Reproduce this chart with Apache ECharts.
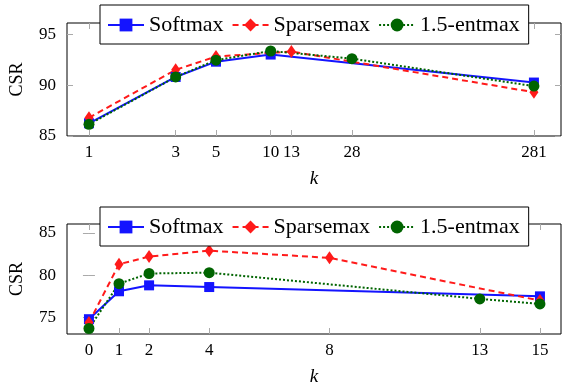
<!DOCTYPE html>
<html>
<head>
<meta charset="utf-8">
<script src="https://cdn.jsdelivr.net/npm/echarts@6/dist/echarts.min.js"></script>
<style>
  html, body { margin: 0; padding: 0; background: #fff; }
  #chart { width: 562px; height: 387px; }
</style>
</head>
<body>
<div id="chart"></div>
<script>
// top panel (log k)
var topTicks = [1, 3, 5, 10, 13, 28, 281];
var topSoftmax = [[1, 86.25], [3, 90.8], [5, 92.3], [10, 93.0], [281, 90.25]];
var topSparsemax = [[1, 86.8], [3, 91.5], [5, 92.8], [13, 93.3], [281, 89.3]];
var topEntmax = [[1, 86.15], [3, 90.8], [5, 92.45], [10, 93.35], [28, 92.6], [281, 89.9]];

// bottom panel (linear k)
var bottomTicks = [0, 1, 2, 4, 8, 13, 15];
var bottomSoftmax = [[0, 74.8], [1, 78.1], [2, 78.8], [4, 78.6], [15, 77.5]];
var bottomSparsemax = [[0, 74.4], [1, 81.3], [2, 82.2], [4, 82.9], [8, 82.05], [15, 77.0]];
var bottomEntmax = [[0, 73.7], [1, 79.0], [2, 80.2], [4, 80.3], [13, 77.2], [15, 76.6]];

var topY = [85, 90, 95];
var bottomY = [75, 80, 85];

var names = ['Softmax', 'Sparsemax', '1.5-entmax'];
var serif = 'Liberation Serif';

var dom = document.getElementById('chart');
var myChart = echarts.init(dom);

function tickStyle(vals) {
    return { show: true, inside: true, length: 6, customValues: vals, lineStyle: { color: '#aaa', width: 1 } };
}

function xAx(grid, type, vals, min, max, pos, withLabel) {
    var a = {
        type: type,
        gridIndex: grid,
        position: pos,
        min: min,
        max: max,
        axisLine: { show: false },
        axisTick: tickStyle(vals),
        splitLine: { show: false },
        axisLabel: { show: withLabel, customValues: vals, margin: 8, fontFamily: serif, fontSize: 17, color: '#000' }
    };
    if (type === 'log') a.logBase = 10;
    if (withLabel) {
        a.name = 'k';
        a.nameLocation = 'middle';
        a.nameGap = 33;
        a.nameTextStyle = { fontFamily: serif, fontStyle: 'italic', fontSize: 19, color: '#000' };
    }
    return a;
}

function yAx(grid, vals, min, max, pos, withLabel) {
    var a = {
        type: 'value',
        gridIndex: grid,
        position: pos,
        min: min,
        max: max,
        axisLine: { show: false },
        axisTick: tickStyle(vals),
        splitLine: { show: false },
        axisLabel: { show: withLabel, customValues: vals, margin: 11, fontFamily: serif, fontSize: 17, color: '#000' }
    };
    if (withLabel) {
        a.name = 'CSR';
        a.nameLocation = 'middle';
        a.nameRotate = 90;
        a.nameGap = 41;
        a.nameTextStyle = { fontFamily: serif, fontSize: 18, color: '#000' };
    }
    return a;
}

function mk(name, data, xi, yi) {
    var s = {
        name: name,
        type: 'line',
        data: data,
        xAxisIndex: xi,
        yAxisIndex: yi,
        animation: false
    };
    if (name === 'Softmax') {
        s.symbol = 'rect';
        s.symbolSize = 10;
        s.itemStyle = { color: '#1414ff' };
        s.lineStyle = { color: '#1414ff', width: 2 };
    } else if (name === 'Sparsemax') {
        s.symbol = 'diamond';
        s.symbolSize = [9, 13];
        s.itemStyle = { color: '#ff1a1a' };
        s.lineStyle = { color: '#ff1a1a', width: 2, type: [6, 4] };
    } else {
        s.symbol = 'circle';
        s.symbolSize = 11;
        s.itemStyle = { color: '#006400' };
        s.lineStyle = { color: '#006400', width: 2, type: [2, 2] };
    }
    return s;
}

function leg(top) {
    return {
        data: names,
        left: 100,
        top: top,
        orient: 'horizontal',
        itemWidth: 36,
        itemHeight: 16,
        itemGap: 8,
        padding: [9, 9, 8, 7],
        borderColor: '#000',
        borderWidth: 1,
        backgroundColor: '#fff',
        selectedMode: false,
        textStyle: { fontFamily: serif, fontSize: 22, color: '#000', padding: [0, 0, 0, 0] }
    };
}

option = {
    animation: false,
    backgroundColor: '#fff',
    legend: [leg(5), leg(207)],
    grid: [
        { left: 67, right: 1, top: 23, height: 113, show: true, borderColor: '#000', borderWidth: 1, backgroundColor: 'transparent' },
        { left: 67, right: 1, top: 224, height: 112, show: true, borderColor: '#000', borderWidth: 1, backgroundColor: 'transparent' }
    ],
    xAxis: [
        xAx(0, 'log', topTicks, 0.757, 396, 'bottom', true),
        xAx(0, 'log', topTicks, 0.757, 396, 'top', false),
        xAx(1, 'value', bottomTicks, -0.73, 15.7, 'bottom', true),
        xAx(1, 'value', bottomTicks, -0.73, 15.7, 'top', false)
    ],
    yAxis: [
        yAx(0, topY, 85, 96.1, 'left', true),
        yAx(0, topY, 85, 96.1, 'right', false),
        yAx(1, bottomY, 73.05, 86.05, 'left', true),
        yAx(1, bottomY, 73.05, 86.05, 'right', false)
    ],
    series: [
        mk('Softmax', topSoftmax, 0, 0),
        mk('Sparsemax', topSparsemax, 0, 0),
        mk('1.5-entmax', topEntmax, 0, 0),
        mk('Softmax', bottomSoftmax, 2, 2),
        mk('Sparsemax', bottomSparsemax, 2, 2),
        mk('1.5-entmax', bottomEntmax, 2, 2)
    ]
};

if (option && typeof option === 'object') {
    myChart.setOption(option, true);
}
</script>
</body>
</html>
